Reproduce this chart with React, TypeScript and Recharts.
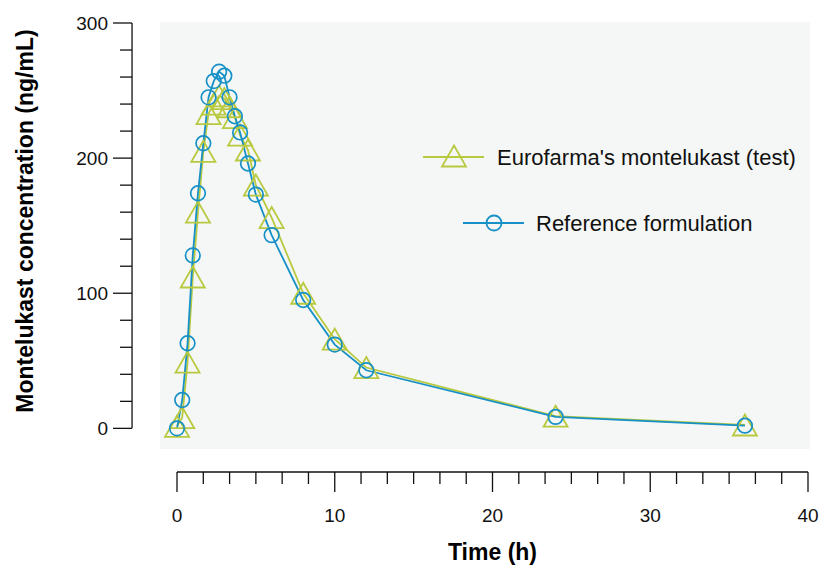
import React from 'react';
import { ComposedChart, Line, XAxis, YAxis, ReferenceLine, Legend } from 'recharts';

// ---- data ----
const times = [0, 0.33, 0.67, 1, 1.33, 1.67, 2, 2.33, 2.67, 3, 3.33, 3.67, 4, 4.5, 5, 6, 8, 10, 12, 24, 36];
const testConcentrations = [1.5, 8, 49, 112, 160, 205, 233, 240, 246, 244, 238, 230, 217, 206, 180, 156, 100, 66, 45, 9, 2.5];
const referenceConcentrations = [0, 21, 63, 128, 174, 211, 245, 257, 264, 261, 245, 231, 219, 196, 173, 143, 95, 62, 43, 8.5, 2];
const testName = "Eurofarma's montelukast (test)";
const referenceName = 'Reference formulation';
const xAxisTitle = 'Time (h)';
const yAxisTitle = 'Montelukast concentration (ng/mL)';
const xMajorTicks = [0, 10, 20, 30, 40];
const xMinorPerMajor = 6;
const yTicks = [0, 20, 40, 60, 80, 100, 120, 140, 160, 180, 200, 220, 240, 260, 280, 300];
const yMajorTicks = [0, 100, 200, 300];

const xTicks: number[] = [];
for (let m = 0; m < xMajorTicks.length - 1; m++) {
  const a = xMajorTicks[m];
  const b = xMajorTicks[m + 1];
  for (let k = 0; k < xMinorPerMajor; k++) xTicks.push(a + ((b - a) * k) / xMinorPerMajor);
}
xTicks.push(xMajorTicks[xMajorTicks.length - 1]);

const data = times.map((t, i) => ({
  t,
  test: testConcentrations[i],
  reference: referenceConcentrations[i],
}));

// ---- styles ----
const TEST_COLOR = '#b9c93f';
const REF_COLOR = '#1690c6';
const AXIS_COLOR = '#111';
const FONT = '"Liberation Sans", Arial, Helvetica, sans-serif';
const Y_AXIS_LINE_X = -2.85; // x-position (in h) of the detached y-axis line

const triPath = (cx: number, cy: number) =>
  `M${cx},${cy - 10.5} L${cx + 12},${cy + 10.5} L${cx - 12},${cy + 10.5} Z`;

const TriangleDot = (props: any) => {
  const { cx, cy, index } = props;
  if (cx == null || cy == null) return null;
  return <path key={`tri-${index}`} d={triPath(cx, cy)} fill="none" stroke={TEST_COLOR} strokeWidth={1.8} />;
};

const isMajorX = (v: number) => xMajorTicks.some((m) => Math.abs(m - v) < 1e-6);

const XTick = (props: any) => {
  const { x, y, payload } = props;
  const v = payload.value;
  const major = isMajorX(v);
  return (
    <g>
      <line x1={x} x2={x} y1={y} y2={y + (major ? 20 : 12)} stroke={AXIS_COLOR} strokeWidth={1.3} />
      {major && (
        <text x={x} y={y + 50} textAnchor="middle" fontSize={19} fill={AXIS_COLOR} fontFamily={FONT}>
          {v}
        </text>
      )}
    </g>
  );
};

const YTick = (props: any) => {
  const { x, y, payload } = props;
  const v = payload.value;
  const major = yMajorTicks.includes(v);
  const ax = x - 45;
  return (
    <g>
      <line x1={ax - (major ? 19 : 12)} x2={ax} y1={y} y2={y} stroke={AXIS_COLOR} strokeWidth={1.3} />
      {major && (
        <text x={ax - 24} y={y + 6.8} textAnchor="end" fontSize={19} fill={AXIS_COLOR} fontFamily={FONT}>
          {v}
        </text>
      )}
    </g>
  );
};

const XTitle = (props: any) => {
  const vb = props.viewBox || { x: 177, y: 472, width: 631, height: 94 };
  return (
    <text
      x={vb.x + vb.width / 2}
      y={vb.y + 88}
      textAnchor="middle"
      fontSize={23}
      fontWeight="bold"
      fill="#000"
      fontFamily={FONT}
    >
      {xAxisTitle}
    </text>
  );
};

const YTitle = (props: any) => {
  const vb = props.viewBox || { x: 0, y: 23, width: 177, height: 449 };
  const cx = vb.x + 33;
  const cy = vb.y + 198;
  return (
    <text
      x={cx}
      y={cy}
      transform={`rotate(-90, ${cx}, ${cy})`}
      textAnchor="middle"
      fontSize={23}
      fontWeight="bold"
      fill="#000"
      fontFamily={FONT}
    >
      {yAxisTitle}
    </text>
  );
};

const legendLayout: Record<string, { lx1: number; lx2: number; mx: number; y: number; tx: number }> = {
  test: { lx1: 23, lx2: 84, mx: 54, y: 27, tx: 97 },
  reference: { lx1: 63, lx2: 124, mx: 94, y: 93, tx: 136 },
};

const renderLegend = (props: any) => {
  const payload: any[] = props.payload || [];
  return (
    <svg width={420} height={120} style={{ display: 'block', overflow: 'visible' }}>
      {payload.map((entry: any) => {
        const key = String(entry.dataKey);
        const p = legendLayout[key];
        if (!p) return null;
        const color = entry.color;
        return (
          <g key={key}>
            <line x1={p.lx1} x2={p.lx2} y1={p.y} y2={p.y} stroke={color} strokeWidth={1.8} />
            {key === 'test' ? (
              <path d={triPath(p.mx, p.y - 1)} fill="none" stroke={color} strokeWidth={1.8} />
            ) : (
              <circle cx={p.mx} cy={p.y} r={7.5} fill="none" stroke={color} strokeWidth={1.8} />
            )}
            <text x={p.tx} y={p.y + 8} fontSize={22} fill="#111" fontFamily={FONT}>
              {entry.value}
            </text>
          </g>
        );
      })}
    </svg>
  );
};

export default function App() {
  return (
    <div style={{ position: 'absolute', left: 0, top: 0, width: 823, height: 566, background: '#fff' }}>
      <div
        style={{
          position: 'absolute',
          left: 160,
          top: 22,
          width: 650,
          height: 427,
          background: '#f5f7f6',
        }}
      />
      <div style={{ position: 'absolute', left: 0, top: 0 }}>
        <ComposedChart
          width={823}
          height={566}
          data={data}
          margin={{ top: 23, right: 15, bottom: 0, left: 0 }}
        >
          <XAxis
            dataKey="t"
            type="number"
            domain={[0, 40]}
            ticks={xTicks}
            interval={0}
            tickSize={0}
            tickMargin={0}
            tickLine={false}
            axisLine={{ stroke: AXIS_COLOR, strokeWidth: 1.3 }}
            tick={<XTick />}
            height={94}
            label={XTitle}
          />
          <YAxis
            type="number"
            domain={[-32.3, 300]}
            ticks={yTicks}
            interval={0}
            tickSize={0}
            tickMargin={0}
            tickLine={false}
            axisLine={false}
            tick={<YTick />}
            width={177}
            label={YTitle}
          />
          <ReferenceLine
            segment={[
              { x: Y_AXIS_LINE_X, y: 0 },
              { x: Y_AXIS_LINE_X, y: 300 },
            ]}
            stroke={AXIS_COLOR}
            strokeWidth={1.3}
            ifOverflow="visible"
          />
          <Line
            dataKey="test"
            name={testName}
            type="linear"
            stroke={TEST_COLOR}
            strokeWidth={1.8}
            dot={TriangleDot}
            activeDot={false}
            isAnimationActive={false}
          />
          <Line
            dataKey="reference"
            name={referenceName}
            type="linear"
            stroke={REF_COLOR}
            strokeWidth={1.8}
            dot={{ r: 7.3, fill: 'none', stroke: REF_COLOR, strokeWidth: 1.7 }}
            activeDot={false}
            isAnimationActive={false}
          />
          <Legend
            layout="vertical"
            align="center"
            verticalAlign="middle"
            wrapperStyle={{ left: 400, top: 130, width: 420, height: 120 }}
            content={renderLegend}
          />
        </ComposedChart>
      </div>
    </div>
  );
}
